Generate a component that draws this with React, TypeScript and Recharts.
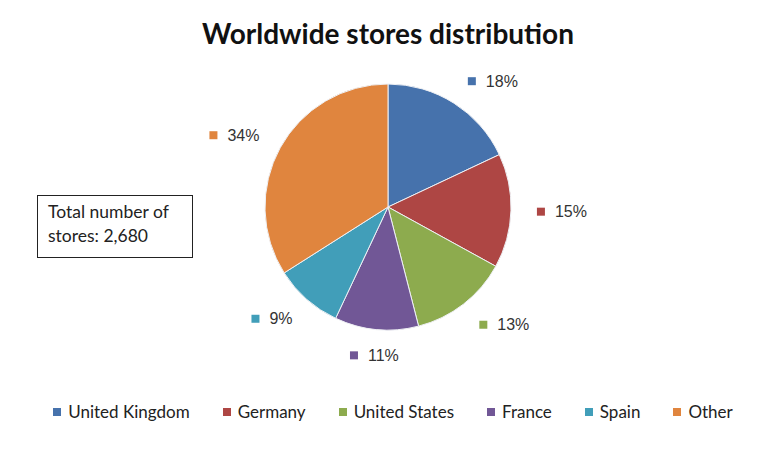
import { PieChart, Pie, Cell, Legend } from 'recharts';

const countries = ['United Kingdom', 'Germany', 'United States', 'France', 'Spain', 'Other'];
const shares = [18, 15, 13, 11, 9, 34];
const colors = ['#4672AC', '#AE4644', '#8DAB4E', '#715796', '#419EB9', '#E0853E'];
const totalStores = 2680;

const data = countries.map((name, i) => ({ name, value: shares[i] }));

const RADIAN = Math.PI / 180;

// marker + percentage, pushed outside the slice
function renderLabel(props: any) {
  const { cx, cy, midAngle, outerRadius, index, percent } = props;
  const r = outerRadius + 26;
  const cos = Math.cos(-midAngle * RADIAN);
  const x = cx + r * cos;
  const y = cy + r * Math.sin(-midAngle * RADIAN);
  const text = `${Math.round(percent * 100)}%`;
  const groupW = 18 + text.length * 10;
  const shift = cos > 0.3 ? 0 : cos < -0.3 ? -groupW : -groupW / 2;
  const left = x + shift;
  return (
    <g key={`lbl-${index}`}>
      <rect x={left} y={y - 4} width={8} height={8} fill={colors[index]} />
      <text x={left + 18} y={y} dy={5.5} fontSize={16} fill="#333" fontFamily="Liberation Sans, Arial, sans-serif">
        {text}
      </text>
    </g>
  );
}

function renderLegend(props: any) {
  const payload = [...(props.payload || [])].sort(
    (a: any, b: any) => countries.indexOf(a.value) - countries.indexOf(b.value)
  );
  return (
    <div style={{ display: 'flex', justifyContent: 'center', gap: 33, paddingLeft: 10, fontFamily: 'Lato, sans-serif', fontSize: 17, color: '#222' }}>
      {payload.map((p: any) => (
        <div key={p.value} style={{ display: 'flex', alignItems: 'center' }}>
          <span style={{ display: 'inline-block', width: 8, height: 8, background: p.color, marginRight: 7 }} />
          <span>{p.value}</span>
        </div>
      ))}
    </div>
  );
}

export default function App() {
  return (
    <div style={{ position: 'absolute', left: 0, top: 0, width: 776, height: 452, background: '#fff' }}>
      <div
        style={{
          position: 'absolute', top: 16, left: 0, width: 776, textAlign: 'center',
          fontFamily: 'Lato, sans-serif', fontWeight: 'bold', fontSize: 28, color: '#111',
        }}
      >
        Worldwide stores distribution
      </div>
      <div
        style={{
          position: 'absolute', left: 37, top: 195, width: 156, height: 63, border: '1px solid #222',
          fontFamily: 'Lato, sans-serif', fontSize: 17.5, color: '#222', padding: '4px 0 0 10px',
          boxSizing: 'border-box', lineHeight: '24px',
        }}
      >
        Total number of
        <br />
        stores: {totalStores.toLocaleString('en-US')}
      </div>
      <PieChart width={776} height={452} style={{ position: 'absolute', left: 0, top: 0 }}>
        <Pie
          data={data}
          dataKey="value"
          nameKey="name"
          cx={383}
          cy={202}
          outerRadius={123}
          startAngle={90}
          endAngle={-270}
          stroke="#eef0f4"
          strokeWidth={1}
          label={renderLabel}
          labelLine={false}
          isAnimationActive={false}
        >
          {data.map((_, i) => (
            <Cell key={`cell-${i}`} fill={colors[i]} />
          ))}
        </Pie>
        <Legend content={renderLegend} verticalAlign="bottom" wrapperStyle={{ bottom: 30, left: 0, width: 776 }} />
      </PieChart>
    </div>
  );
}
